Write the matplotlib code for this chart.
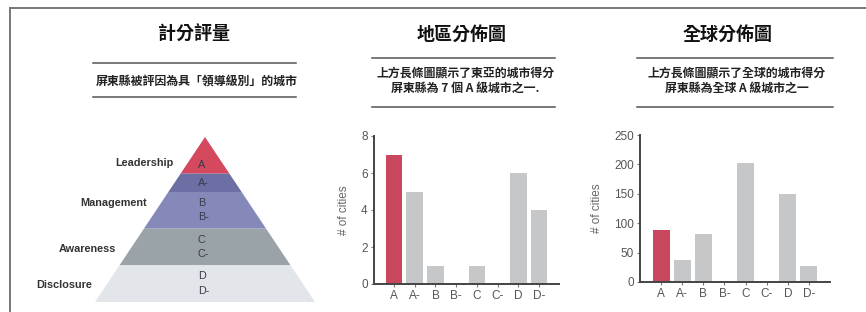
import matplotlib
matplotlib.use("Agg")
import matplotlib.pyplot as plt
from matplotlib.patches import Polygon

# ---------------- data ----------------
grades = ["A", "A-", "B", "B-", "C", "C-", "D", "D-"]
east_asia_counts = [7, 5, 1, 0, 1, 0, 6, 4]
global_counts = [88, 37, 82, 0, 203, 1, 150, 28]
highlight_grade = "A"

pyramid_levels = ["Leadership", "Management", "Awareness", "Disclosure"]
pyramid_band_grades = [["A"], ["A-"], ["B", "B-"], ["C", "C-"], ["D", "D-"]]
pyramid_band_heights = [2, 1, 2, 2, 2]          # bands from top to bottom
pyramid_band_colors = ["#d5495f", "#6b6fa3", "#8489ba", "#9aa3a8", "#e2e5ea"]
level_band_groups = [[0], [1, 2], [3], [4]]     # which bands each level spans

titles = ["計分評量", "地區分佈圖", "全球分佈圖"]
subtitles = [["屏東縣被評因為具「領導級別」的城市"],
             ["上方長條圖顯示了東亞的城市得分", "屏東縣為 7 個 A 級城市之一."],
             ["上方長條圖顯示了全球的城市得分", "屏東縣為全球 A 級城市之一"]]
ylabel = "# of cities"

W, H = 866, 312
fig = plt.figure(figsize=(W / 100, H / 100), dpi=100)
cjk = ["Noto Sans CJK TC", "DejaVu Sans"]
latin = ["Liberation Sans", "DejaVu Sans"]

# overlay in pixel coordinates for frame, titles and rules
ov = fig.add_axes([0, 0, 1, 1])
ov.set_xlim(0, W)
ov.set_ylim(H, 0)
ov.axis("off")
ov.plot([10, W], [7.5, 7.5], color="#777777", lw=1.4)
ov.plot([10, 10], [7.5, H], color="#777777", lw=1.4)

panel_cfg = [
    dict(cx=194, rule=(93, 296), rule_y=(63, 97), sub_y=[82]),
    dict(cx=462, rule=(372, 555), rule_y=(58, 107), sub_y=[73, 88]),
    dict(cx=728, rule=(637, 833), rule_y=(58, 107), sub_y=[73, 88]),
]
for t, subs, cfg in zip(titles, subtitles, panel_cfg):
    ov.text(cfg["cx"], 34, t, ha="center", va="center", fontsize=13,
            fontweight="bold", family=cjk, color="#111111")
    for yy in cfg["rule_y"]:
        ov.plot(cfg["rule"], [yy, yy], color="#555555", lw=1.1)
    for s, yy in zip(subs, cfg["sub_y"]):
        ov.text((cfg["rule"][0] + cfg["rule"][1]) / 2 + 2, yy, s, ha="center",
                va="center", fontsize=8.6, fontweight="bold", family=cjk,
                color="#222222")

# ---------------- pyramid ----------------
pa = fig.add_axes([95 / W, (H - 302) / H, 220 / W, 165 / H])
total = sum(pyramid_band_heights)
pa.set_xlim(-1, 1)
pa.set_ylim(0, total)
pa.axis("off")


def hw(y):
    return (total - y) / total


top = total
band_spans = []
for h, c in zip(pyramid_band_heights, pyramid_band_colors):
    lo = top - h
    pa.add_patch(Polygon([(-hw(lo), lo), (hw(lo), lo), (hw(top), top), (-hw(top), top)],
                         closed=True, facecolor=c, edgecolor="none"))
    band_spans.append((lo, top))
    top = lo

for gr, (lo, hi) in zip(pyramid_band_grades, band_spans):
    if len(gr) == 2:
        ys = [lo + 1.4, lo + 0.62]
    elif hi == total:
        ys = [lo + 0.45]
    else:
        ys = [(lo + hi) / 2]
    for g, yy in zip(gr, ys):
        pa.text(-0.065, yy, g, ha="left", va="center", fontsize=7.8,
                family=latin, color="#3b3b4b")

for name, grp in zip(pyramid_levels, level_band_groups):
    lo = min(band_spans[i][0] for i in grp)
    hi = max(band_spans[i][1] for i in grp)
    ym = (lo + hi) / 2 - 0.1
    if hi == total:
        ym = lo + 0.6
    pa.text(-hw(ym) - 0.13, ym, name, ha="right", va="center", fontsize=7.8,
            fontweight="bold", family=latin, color="#333333")

# ---------------- bar charts ----------------
def bar_chart(rect, values, ymax, step, xlim, lab_x):
    ax = fig.add_axes(rect)
    x = list(range(len(grades)))
    colors = ["#c9485e" if g == highlight_grade else "#c6c7c9" for g in grades]
    ax.bar(x, values, width=0.8, color=colors, zorder=2)
    ax.set_xlim(*xlim)
    ax.set_ylim(0, ymax)
    ax.set_xticks(x)
    ax.set_xticklabels(grades)
    ax.set_yticks(range(0, ymax + 1, step))
    for s in ["top", "right"]:
        ax.spines[s].set_visible(False)
    for s in ["left", "bottom"]:
        ax.spines[s].set_color("#444444")
        ax.spines[s].set_linewidth(1.4)
    ax.tick_params(axis="both", length=2.5, width=0.8, color="#777777",
                   labelsize=8.5, labelcolor="#555555", pad=2)
    for lbl in ax.get_xticklabels() + ax.get_yticklabels():
        lbl.set_family(latin)
    ax.set_ylabel(ylabel, fontsize=8.5, color="#666666", family=latin)
    ax.yaxis.set_label_coords(lab_x, 0.5)
    ax.set_facecolor("none")
    return ax


bar_chart([374 / W, (H - 284) / H, 185 / W, 148 / H], east_asia_counts, 8, 2,
          (-0.97, 7.97), -0.13)
bar_chart([640 / W, (H - 282) / H, 190 / W, 147 / H], global_counts, 250, 50,
          (-1.0, 8.0), -0.195)

fig.savefig("out.png", dpi=100)
